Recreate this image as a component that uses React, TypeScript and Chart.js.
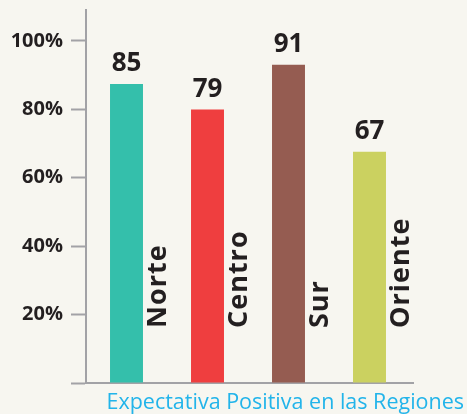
import { useEffect, useRef } from 'react';
import { Chart, registerables } from 'chart.js';

Chart.register(...registerables);

const regions = ['Norte', 'Centro', 'Sur', 'Oriente'];
const barValues = [87.4, 79.9, 93.0, 67.6];
const valueLabels = ['85', '79', '91', '67'];
const barColors = ['#34bfab', '#ef3e3f', '#955c51', '#cbd160'];
const yTicks = [0, 20, 40, 60, 80, 100];
const chartTitle = 'Expectativa Positiva en las Regiones';

const axisColor = '#a2a2a6';
const textColor = '#231f20';
const titleColor = '#22b4ea';
const bgColor = '#f7f6f0';

const labelPlugin = {
  id: 'customLabels',
  afterDatasetsDraw(chart: any) {
    const ctx = chart.ctx as CanvasRenderingContext2D;
    const meta = chart.getDatasetMeta(0);
    ctx.save();
    meta.data.forEach((bar: any, i: number) => {
      const { x, y, width } = bar.getProps(['x', 'y', 'width'], true);
      ctx.fillStyle = textColor;
      ctx.font = 'bold 26px "Open Sans"';
      ctx.textAlign = 'center';
      ctx.textBaseline = 'alphabetic';
      ctx.fillText(valueLabels[i], x, y - 13);

      ctx.save();
      ctx.translate(x + width / 2 + 4 + 19, 328);
      ctx.rotate(-Math.PI / 2);
      ctx.font = 'bold 27px "Open Sans"';
      (ctx as any).letterSpacing = '1px';
      ctx.textAlign = 'left';
      ctx.textBaseline = 'alphabetic';
      ctx.fillText(regions[i], 0, 0);
      ctx.restore();
    });

    const { right, bottom } = chart.chartArea;
    ctx.strokeStyle = axisColor;
    ctx.lineWidth = 2;
    ctx.beginPath();
    ctx.moveTo(right - 1, bottom);
    ctx.lineTo(right + 4, bottom);
    ctx.stroke();

    ctx.font = '21.5px "Open Sans"';
    ctx.fillStyle = titleColor;
    ctx.textAlign = 'right';
    ctx.textBaseline = 'alphabetic';
    ctx.fillText(chartTitle, 464, 409);
    ctx.restore();
  },
};

export default function App() {
  const canvasRef = useRef<HTMLCanvasElement | null>(null);

  useEffect(() => {
    if (!canvasRef.current) return;
    const chart = new Chart(canvasRef.current, {
      type: 'bar',
      data: {
        labels: regions,
        datasets: [
          {
            data: barValues,
            backgroundColor: barColors,
            borderWidth: 0,
            categoryPercentage: 1,
            barPercentage: 0.407,
          },
        ],
      },
      options: {
        responsive: false,
        animation: false,
        devicePixelRatio: 1,
        layout: { padding: { top: 10, right: 57, left: 0, bottom: 0 } },
        plugins: {
          legend: { display: false },
          tooltip: { enabled: false },
          title: { display: false },
        },
        scales: {
          x: {
            ticks: { display: false },
            grid: { display: true, drawOnChartArea: false, drawTicks: false },
            border: { display: true, color: axisColor, width: 2 },
            afterFit: (scale: any) => {
              scale.height = 31;
              scale.paddingLeft = 0;
              scale.paddingRight = 0;
            },
          },
          y: {
            min: 0,
            max: 109,
            afterBuildTicks: (scale: any) => {
              scale.ticks = yTicks.map((v) => ({ value: v }));
            },
            ticks: {
              padding: 8,
              color: textColor,
              font: { family: '"Open Sans"', size: 20, weight: 'bold' },
              callback: (v: any) => (v === 0 ? '' : v + '%'),
            },
            grid: {
              display: true,
              drawOnChartArea: false,
              drawTicks: true,
              tickLength: 15,
              tickColor: axisColor,
              tickWidth: 2,
            },
            border: { display: true, color: axisColor, width: 2 },
            afterFit: (scale: any) => {
              scale.width = 86;
              scale.paddingTop = 0;
              scale.paddingBottom = 0;
            },
          },
        },
      },
      plugins: [labelPlugin],
    });
    return () => chart.destroy();
  }, []);

  return (
    <div
      style={{
        position: 'fixed',
        left: 0,
        top: 0,
        width: 467,
        height: 414,
        background: bgColor,
      }}
    >
      <canvas ref={canvasRef} width={467} height={414} style={{ display: 'block' }} />
    </div>
  );
}
